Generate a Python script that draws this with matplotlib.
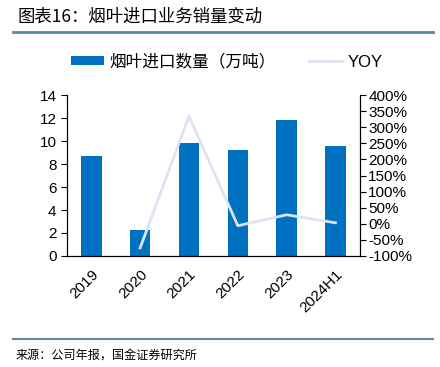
import matplotlib.pyplot as plt
import numpy as np
from matplotlib.ticker import FuncFormatter

plt.rcParams['font.family'] = ['Liberation Sans', 'Noto Sans CJK SC', 'DejaVu Sans']

years = ['2019', '2020', '2021', '2022', '2023', '2024H1']
volume = [8.7, 2.25, 9.8, 9.25, 11.8, 9.6]
yoy = [None, -75, 334, -6, 28, 3]

fig = plt.figure(figsize=(4.4, 3.67), dpi=100)
ax = fig.add_axes([0.152, 0.3025, 0.666, 0.4385])
x = np.arange(len(years))
bars = ax.bar(x, volume, width=0.42, color='#0070c0')
ax.set_ylim(0, 14)
ax.set_yticks(range(0, 15, 2))
ax.set_xlim(-0.5, len(years) - 0.5)
ax.set_xticks(x)
ax.set_xticklabels(years, rotation=45, ha='right', rotation_mode='anchor', fontsize=11)
ax.tick_params(axis='x', length=0, pad=8)
ax.tick_params(axis='y', labelsize=11, length=4, direction='out')
ax.spines['top'].set_visible(False)

ax2 = ax.twinx()
xs = [i for i, v in enumerate(yoy) if v is not None]
ys = [v for v in yoy if v is not None]
line, = ax2.plot(xs, ys, color='#dde3f3', lw=2)
ax2.set_ylim(-100, 400)
ax2.set_yticks(range(-100, 401, 50))
ax2.yaxis.set_major_formatter(FuncFormatter(lambda v, p: '{:d}%'.format(int(v))))
ax2.tick_params(axis='y', labelsize=11, length=4, pad=2)
ax2.spines['top'].set_visible(False)

fig.legend([bars, line], ['烟叶进口数量（万吨）', 'YOY'], loc='center', bbox_to_anchor=(0.515, 0.832),
           ncol=2, frameon=False, fontsize=12, handlelength=2.0, handleheight=0.45,
           handletextpad=0.3, columnspacing=2.0)

fig.text(0.04, 0.955, '图表16：烟叶进口业务销量变动', fontsize=12.5, fontstyle='italic',
         va='center', family=['Noto Sans CJK SC', 'DejaVu Sans'])
fig.add_artist(plt.Line2D([0.03, 0.985], [0.912, 0.912], color='#5a8aa6', lw=2))
fig.add_artist(plt.Line2D([0.03, 0.985], [0.077, 0.077], color='#5a8aa6', lw=1.5))
fig.text(0.035, 0.033, '来源：公司年报，国金证券研究所', fontsize=8.7, va='center',
         family=['Noto Sans CJK SC', 'DejaVu Sans'])

fig.savefig('out.png')
